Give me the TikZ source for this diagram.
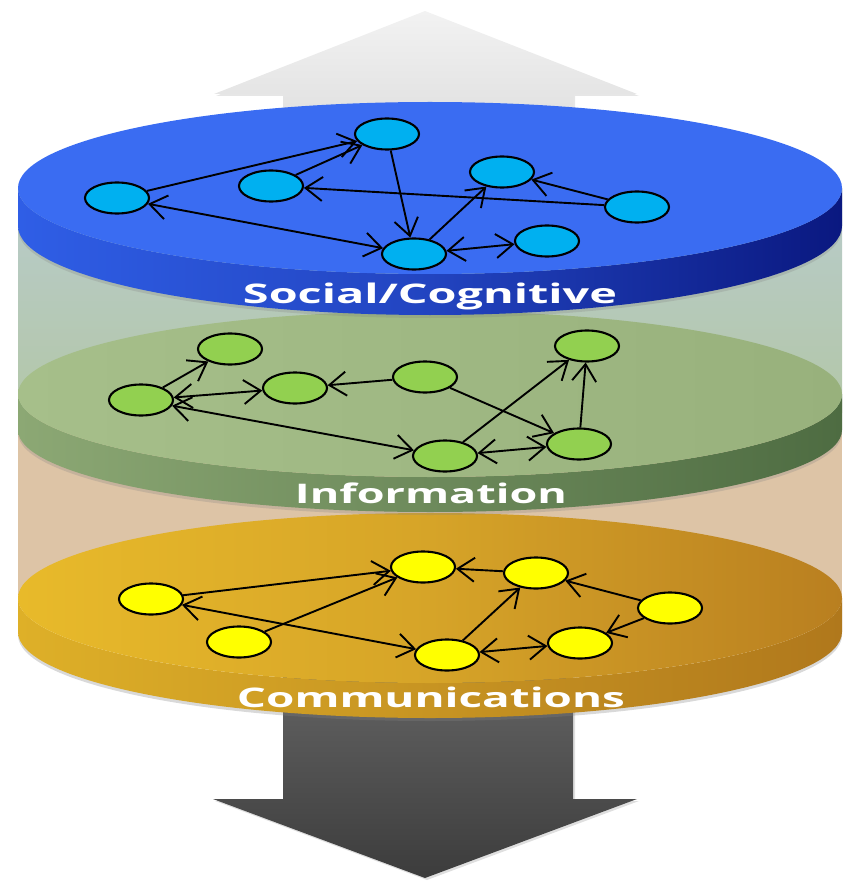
\documentclass[tikz,border=0pt]{standalone}
\usepackage{fontspec}
\newfontfamily\labelfont{Open Sans}
\usetikzlibrary{shapes.geometric,arrows.meta,shadows}
\definecolor{nodeblue}{HTML}{00B0F0}
\definecolor{nodegreen}{HTML}{92D050}
\definecolor{nodeyellow}{HTML}{FFFF00}
\definecolor{blueface}{HTML}{3A6CF2}
\definecolor{bluesideL}{HTML}{2F5EE6}
\definecolor{bluesideM}{HTML}{2244C0}
\definecolor{bluesideR}{HTML}{0A1880}
\definecolor{greenfaceL}{HTML}{A6BF8A}
\definecolor{greenfaceR}{HTML}{98B17C}
\definecolor{greensideL}{HTML}{8CA874}
\definecolor{greensideR}{HTML}{4E6C42}
\definecolor{yellowfaceL}{HTML}{E8BA2A}
\definecolor{yellowfaceM}{HTML}{D6A428}
\definecolor{yellowfaceR}{HTML}{B97F20}
\definecolor{yellowsideL}{HTML}{DEB028}
\definecolor{yellowsideR}{HTML}{B0781C}
\definecolor{colupper}{HTML}{B8CBCB}
\definecolor{colmid}{HTML}{B3C7A8}
\definecolor{collower}{HTML}{DDC4A6}
\definecolor{uparrowT}{HTML}{F2F2F2}
\definecolor{uparrowB}{HTML}{D4D4D4}
\definecolor{downarrowT}{HTML}{6A6A6A}
\definecolor{downarrowB}{HTML}{3C3C3C}
\begin{document}
\begin{tikzpicture}[x=1pt,y=-1pt,
  net/.style={draw=black, line width=2.1pt, ellipse, minimum width=64pt, minimum height=31pt, inner sep=0pt},
  bnode/.style={net, fill=nodeblue},
  gnode/.style={net, fill=nodegreen},
  ynode/.style={net, fill=nodeyellow},
  link/.style={line width=1.9pt, >={Straight Barb[length=17pt,width=24pt]}, ->},
  blink/.style={line width=1.9pt, >={Straight Barb[length=17pt,width=24pt]}, <->},
  layerlabel/.style={text=white, font=\labelfont\bfseries\fontsize{27}{30}\selectfont, inner sep=0pt, anchor=base}
]
\useasboundingbox (0,0) rectangle (846,882);

% ---------- top (light) arrow ----------
\path[top color=uparrowT, bottom color=uparrowB, drop shadow={shadow xshift=2pt, shadow yshift=-2pt, opacity=0.2}]
  (283,200) -- (283,94) -- (214,94) -- (425,11) -- (637,94) -- (573,94) -- (573,200) -- cycle;

% ---------- bottom (dark) arrow ----------
\path[top color=downarrowT, bottom color=downarrowB, drop shadow={shadow xshift=2pt, shadow yshift=-2pt, opacity=0.25}]
  (283,640) -- (573,640) -- (573,799) -- (637,799) -- (425,878) -- (213,799) -- (283,799) -- cycle;

% ---------- translucent column ----------
\path[top color=colupper, bottom color=colmid] (18,190) rectangle (842,412);
\path[fill=collower] (18,412) rectangle (842,605);

% ---------- Communications layer ----------
\path[left color=yellowsideL, right color=yellowsideR, drop shadow={shadow xshift=0pt, shadow yshift=-3pt, opacity=0.3}]
  (18,598) -- (18,632) arc[start angle=180, end angle=360, x radius=412pt, y radius=86pt]
  -- (842,598) arc[start angle=0, end angle=-180, x radius=412pt, y radius=85pt] -- cycle;
\path[left color=yellowfaceL, right color=yellowfaceR, middle color=yellowfaceM]
  (430,598) ellipse [x radius=412pt, y radius=85pt];

\node[ynode] (y1) at (151,599) {};
\node[ynode] (y2) at (423,567) {};
\node[ynode] (y3) at (536,573) {};
\node[ynode] (y4) at (670,608) {};
\node[ynode] (y5) at (239,642) {};
\node[ynode] (y6) at (447,655) {};
\node[ynode] (y7) at (580,643) {};
\draw[link] (y1) -- (y2);
\draw[link] (y5) -- (y2);
\draw[link] (y3) -- (y2);
\draw[blink] (y1) -- (y6);
\draw[link] (y6) -- (y3);
\draw[link] (y4) -- (y3);
\draw[link] (y4) -- (y7);
\draw[blink] (y6) -- (y7);
\node[layerlabel] (lyellow) at (431,707) {\resizebox{388pt}{\height}{Communications}};

% ---------- Information layer ----------
\path[left color=greensideL, right color=greensideR, drop shadow={shadow xshift=0pt, shadow yshift=-3pt, opacity=0.25}]
  (18,394) -- (18,430) arc[start angle=180, end angle=360, x radius=412pt, y radius=82pt]
  -- (842,394) arc[start angle=0, end angle=-180, x radius=412pt, y radius=83pt] -- cycle;
\path[left color=greenfaceL, right color=greenfaceR]
  (430,394) ellipse [x radius=412pt, y radius=83pt];

\node[gnode] (g1) at (230,349) {};
\node[gnode] (g2) at (141,400) {};
\node[gnode] (g3) at (295,388) {};
\node[gnode] (g4) at (425,377) {};
\node[gnode] (g5) at (587,346) {};
\node[gnode] (g6) at (445,456) {};
\node[gnode] (g7) at (579,444) {};
\draw[link] (g2) -- (g1);
\draw[blink] (g2) -- (g3);
\draw[link] (g4) -- (g3);
\draw[blink] (g2) -- (g6);
\draw[link] (g4) -- (g7);
\draw[link] (g6) -- (g5);
\draw[link] (g7) -- (g5);
\draw[blink] (g6) -- (g7);
\node[layerlabel] (lgreen) at (431,503) {\resizebox{272pt}{\height}{Information}};

% ---------- Social/Cognitive layer ----------
\path[left color=bluesideL, right color=bluesideR, middle color=bluesideM, drop shadow={shadow xshift=0pt, shadow yshift=-3pt, opacity=0.25}]
  (18,188) -- (18,226) arc[start angle=180, end angle=360, x radius=412pt, y radius=89pt]
  -- (842,188) arc[start angle=0, end angle=-180, x radius=412pt, y radius=86pt] -- cycle;
\path[fill=blueface] (430,188) ellipse [x radius=412pt, y radius=86pt];

\node[bnode] (b1) at (117,198) {};
\node[bnode] (b2) at (387,134) {};
\node[bnode] (b3) at (271,186) {};
\node[bnode] (b4) at (502,172) {};
\node[bnode] (b5) at (637,207) {};
\node[bnode] (b6) at (414,254) {};
\node[bnode] (b7) at (547,241) {};
\draw[link] (b1) -- (b2);
\draw[link] (b3) -- (b2);
\draw[link] (b2) -- (b6);
\draw[blink] (b1) -- (b6);
\draw[link] (b5) -- (b3);
\draw[link] (b5) -- (b4);
\draw[link] (b6) -- (b4);
\draw[blink] (b6) -- (b7);
\node[layerlabel] (lblue) at (430,303) {\resizebox{374pt}{\height}{Social/Cognitive}};
\end{tikzpicture}
\end{document}
